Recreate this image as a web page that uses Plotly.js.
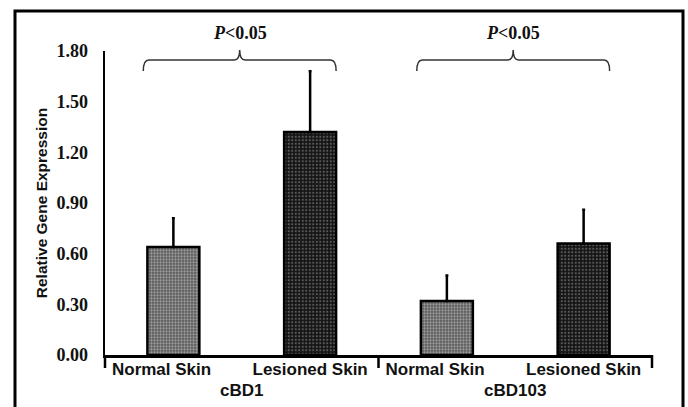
<!DOCTYPE html>
<html>
<head>
<meta charset="utf-8">
<script src="https://cdn.plot.ly/plotly-3.0.1.min.js"></script>
<style>html,body{margin:0;padding:0;background:#fff;}#chart{width:688px;height:407px;}</style>
</head>
<body>
<div id="chart"></div>
<script>
// ---- data ----
var genes = ["cBD1", "cBD103"];
var conditions = ["Normal Skin", "Lesioned Skin"];
var normalMeans = [0.64, 0.32];
var normalErr = [0.17, 0.15];
var lesionedMeans = [1.32, 0.66];
var lesionedErr = [0.36, 0.20];
var yTicks = [0.00, 0.30, 0.60, 0.90, 1.20, 1.50, 1.80];
var pLabel = "<i>P</i>&lt;0.05";

var barW = 0.38;
var xNormal = genes.map(function(g, i){ return i * 2; });
var xLesioned = genes.map(function(g, i){ return i * 2 + 1; });
var tickvals = [], ticktext = [];
var pad = "\u00a0\u00a0\u00a0\u00a0\u00a0";
genes.forEach(function(g, i){
  conditions.forEach(function(c, j){ tickvals.push(i * 2 + j); ticktext.push(j === 0 ? c + pad : c); });
});

var traces = [
  {
    type: "bar", x: xNormal, y: normalMeans, width: barW, name: conditions[0],
    marker: {color: "#6b6b6b", line: {color: "#000", width: 2.5},
             pattern: {shape: ".", bgcolor: "#5a5a5a", fgcolor: "#9c9c9c", size: 3, solidity: 0.45, fillmode: "replace"}},
    error_y: {type: "data", symmetric: false, array: normalErr, arrayminus: normalErr.map(function(){return 0;}),
              color: "#000", thickness: 2.5, width: 1.5},
    hoverinfo: "none"
  },
  {
    type: "bar", x: xLesioned, y: lesionedMeans, width: barW, name: conditions[1],
    marker: {color: "#1c1c1c", line: {color: "#000", width: 2.5},
             pattern: {shape: ".", bgcolor: "#141414", fgcolor: "#5a5a5a", size: 3.5, solidity: 0.3, fillmode: "replace"}},
    error_y: {type: "data", symmetric: false, array: lesionedErr, arrayminus: lesionedErr.map(function(){return 0;}),
              color: "#000", thickness: 2.5, width: 1.5},
    hoverinfo: "none"
  }
];

var plotBottomPx = 355, plotTopPx = 51;
var H = plotBottomPx - plotTopPx;
function py(px){ return (plotBottomPx - px) / H; }

var shapes = [];
var annotations = [];
// outer frame
shapes.push({type: "rect", xref: "paper", yref: "paper", x0: (15 - 105) / 547, x1: (683 - 105) / 547,
             y0: -0.3, y1: py(11), line: {color: "#000", width: 3}, fillcolor: "rgba(0,0,0,0)", layer: "below"});
// group dividers
[0, 0.5, 1].forEach(function(px){
  shapes.push({type: "line", xref: "paper", yref: "paper", x0: px, x1: px, y0: 0, y1: py(368),
               line: {color: "#000", width: 2.5}});
});
// braces + p labels + group labels
genes.forEach(function(g, i){
  var xl = i * 2 - barW / 2 - 0.03, xr = i * 2 + 1 + barW / 2, xm = (xl + xr) / 2;
  var d = 0.04, y0 = py(71), y1 = py(60), yp = py(50);
  var path = "M " + xl + "," + y0 + " Q " + xl + "," + y1 + " " + (xl + d) + "," + y1 +
             " L " + (xm - d) + "," + y1 + " Q " + xm + "," + y1 + " " + xm + "," + yp +
             " Q " + xm + "," + y1 + " " + (xm + d) + "," + y1 +
             " L " + (xr - d) + "," + y1 + " Q " + xr + "," + y1 + " " + xr + "," + y0;
  shapes.push({type: "path", xref: "x", yref: "paper", path: path, line: {color: "#333", width: 1.5}});
  annotations.push({xref: "x", yref: "paper", x: xm, y: py(33), xanchor: "center", yanchor: "middle",
                    text: pLabel, showarrow: false,
                    font: {family: "Liberation Serif, Times New Roman, serif", size: 18, color: "#111", weight: "bold"}});
  annotations.push({xref: "x", yref: "paper", x: i * 2 + 0.5, y: py(390), xanchor: "center", yanchor: "middle",
                    text: g, showarrow: false,
                    font: {family: "Liberation Sans, Arial, sans-serif", size: 17, color: "#111", weight: "bold"}});
});

var layout = {
  width: 688, height: 407,
  margin: {l: 105, r: 36, t: 51, b: 52},
  paper_bgcolor: "#fff", plot_bgcolor: "#fff",
  showlegend: false, barmode: "overlay",
  xaxis: {range: [-0.5, 3.5], tickmode: "array", tickvals: tickvals, ticktext: ticktext,
          showgrid: false, zeroline: false, showline: true, linecolor: "#000", linewidth: 2.5,
          ticks: "", ticklabelstandoff: -3,
          tickfont: {family: "Liberation Sans, Arial, sans-serif", size: 17, color: "#111", weight: "bold"},
          fixedrange: true},
  yaxis: {range: [0, 1.8], tickmode: "array", tickvals: yTicks, tickformat: ".2f",
          showgrid: false, zeroline: false, showline: true, linecolor: "#000", linewidth: 2.5,
          ticks: "", ticklabelstandoff: 11,
          tickfont: {family: "Liberation Serif, Times New Roman, serif", size: 18, color: "#111", weight: "bold"},
          title: {text: "Relative Gene Expression", standoff: 5,
                  font: {family: "Liberation Sans, Arial, sans-serif", size: 15.5, color: "#111", weight: "bold"}},
          fixedrange: true},
  shapes: shapes,
  annotations: annotations
};

Plotly.newPlot("chart", traces, layout, {displayModeBar: false, staticPlot: true});
</script>
</body>
</html>
